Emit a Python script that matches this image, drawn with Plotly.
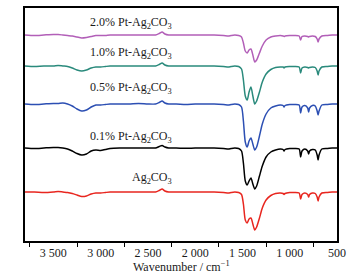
import plotly.graph_objects as go

wavenumber = [3800, 3700, 3600, 3500, 3450, 3400, 3350, 3300, 3250, 3200,
              3150, 3100, 3050, 3000, 2950, 2900, 2800, 2700, 2600, 2500,
              2420, 2380, 2350, 2320, 2280, 2200, 2100, 2000, 1900, 1800,
              1700, 1650, 1620, 1580, 1540, 1510, 1490, 1470, 1450, 1430,
              1410, 1390, 1370, 1350, 1320, 1290, 1250, 1200, 1150, 1100,
              1070, 1060, 1050, 1000, 950, 900, 885, 870, 840, 810,
              800, 790, 760, 730, 710, 700, 690, 660, 600, 550,
              500]

# absorption depth of each spectrum (arbitrary transmittance units, positive = dip)
depth_ag2co3 = [0, 0, 0.5, 0, -0.5, 0, 0.5, 1.5, 3, 4.5,
                4, 2, 1, 1, 0.5, 0, 0, 0, 0, 0,
                0, -1.5, -3, -1, 0, 0, 0, 0, 0, 0,
                0.5, 1, 0.5, 0, 0.5, 2.5, 12, 28, 31, 27,
                26, 32, 38, 35, 26, 16, 8, 3.5, 1.5, 1,
                1.5, 2.5, 1.5, 0.5, 0.5, 1, 7, 2.5, 1, 2.5,
                5, 2.5, 1, 1.5, 5, 9, 5, 1, 0.5, 0,
                0]
depth_01 = [0, 0.5, 0, -0.5, -0.5, 0, 1, 3, 5.5, 7,
            6, 3, 2, 2.5, 1.5, 0.5, 0, 0, 0, 0,
            0, -1.5, -2.5, -1, 0, 0, 0.3, 0, 0, 0,
            0.5, 1, 0.5, 0, 0.5, 3, 15, 33, 37, 33,
            30, 36, 41, 38, 28, 18, 9, 4, 2, 1,
            1.5, 3, 1.5, 0.5, 0.5, 1, 9, 3, 1, 3,
            6, 3, 1.5, 2, 7, 12, 7, 1, 0.5, 0,
            0]
depth_05 = [0, 0.5, 0, -0.5, -0.5, -1, 0, 2, 5, 7,
            6, 3, 1, 1, 0.5, 0, 0, 0, -0.5, 0,
            0, -1.5, -3, -1, 0, 0, 0.5, 0, 0, 0,
            0.5, 1, 0.5, 0, 0.5, 3, 17, 38, 43, 37,
            34, 40, 46, 43, 32, 20, 10, 4, 2, 1,
            1.5, 3, 1.5, 0.5, 0.5, 1, 9, 3, 1.5, 4,
            8, 4, 1.5, 2, 7, 11, 7, 1, 0.5, 0,
            0]
depth_10 = [0, 0.5, 0, 0, -0.5, 0, 0.5, 2, 4, 5,
            4, 2, 1, 1, 0.5, 0, 0, 0, 0, 0,
            0, -1.5, -3, -1, 0, 0, 0, 0, 0, 0,
            0.5, 1, 0.5, 0, 0.5, 3, 14, 30, 34, 26,
            21, 30, 38, 35, 26, 16, 8, 3.5, 1.5, 1,
            1, 2, 1, 0.5, 0.5, 1, 7, 2, 1, 1.5,
            2, 1.5, 1, 1.5, 5, 9, 5, 1, 0.5, 0,
            0]
depth_20 = [0, 0.5, 0, -0.5, -0.5, 0, 0.5, 1, 2, 3,
            2.5, 1.5, 0.5, 0.5, 0.5, 0, 0, 0, 0, 0,
            0, -1.5, -3, -1, 0, 0, 0, 0, 0, 0,
            0.5, 1, 0.5, 0, 0.5, 2, 8, 16, 18, 15,
            14, 20, 27, 25, 18, 11, 5, 2, 1, 0.5,
            1, 1.5, 1, 0.5, 0.5, 1, 5, 1.5, 1, 1.5,
            2, 1.5, 1, 1.5, 4, 7, 4, 1, 0.5, 0,
            0]

series_names = ["Ag<sub>2</sub>CO<sub>3</sub>",
                "0.1% Pt-Ag<sub>2</sub>CO<sub>3</sub>",
                "0.5% Pt-Ag<sub>2</sub>CO<sub>3</sub>",
                "1.0% Pt-Ag<sub>2</sub>CO<sub>3</sub>",
                "2.0% Pt-Ag<sub>2</sub>CO<sub>3</sub>"]
series_depths = [depth_ag2co3, depth_01, depth_05, depth_10, depth_20]
series_offsets = [49, 93, 137, 175, 206]
label_heights = [63, 104, 153, 188, 218]
series_colors = ["#e8261f", "#000000", "#2c4fb3", "#2a8a7c", "#b25fb8"]

tick_values = [3500, 3000, 2500, 2000, 1500, 1000, 500]
tick_labels = ["3 500", "3 000", "2 500", "2 000", "1 500", "1 000", "500"]
x_title = "Wavenumber / cm<sup>−1</sup>"

FONT = "Liberation Serif, Times New Roman, serif"

fig = go.Figure()
for name, depth, off, col in zip(series_names, series_depths, series_offsets, series_colors):
    fig.add_trace(go.Scatter(
        x=wavenumber, y=[off - d for d in depth], mode="lines", name=name,
        line=dict(color=col, width=1.5, shape="spline", smoothing=0.7),
        showlegend=False, hoverinfo="skip"))

for name, h in zip(series_names, label_heights):
    fig.add_annotation(x=2224, y=h, text=name, showarrow=False,
                       xanchor="right", yanchor="middle",
                       font=dict(family=FONT, size=12, color="#1a1a1a"))

fig.add_annotation(x=0.5, y=-0.108, xref="paper", yref="paper", text=x_title,
                   showarrow=False, xanchor="center", yanchor="middle",
                   font=dict(family=FONT, size=12, color="#1a1a1a"))

fig.update_layout(
    width=351, height=277,
    margin=dict(l=25, r=14, t=8, b=36),
    paper_bgcolor="white", plot_bgcolor="white",
    font=dict(family=FONT, size=12, color="#1a1a1a"),
)
fig.update_xaxes(
    range=[3800, 500], tickvals=tick_values, ticktext=tick_labels,
    ticks="outside", ticklen=0, showgrid=False, zeroline=False,
    showline=True, linecolor="black", linewidth=1.5, mirror=True,
    minor=dict(tick0=250, dtick=500, ticks="outside", ticklen=4, tickcolor="black", tickwidth=1, showgrid=False),
    tickfont=dict(family=FONT, size=12, color="#1a1a1a"),
    automargin=False,
)
fig.update_yaxes(
    range=[0, 233], showticklabels=False, ticks="", showgrid=False, zeroline=False,
    showline=True, linecolor="black", linewidth=1.5, mirror=True,
)

fig.write_html("out.html", config={"displayModeBar": False},
               post_script="document.body.style.margin='0';document.body.style.overflow='hidden';")
